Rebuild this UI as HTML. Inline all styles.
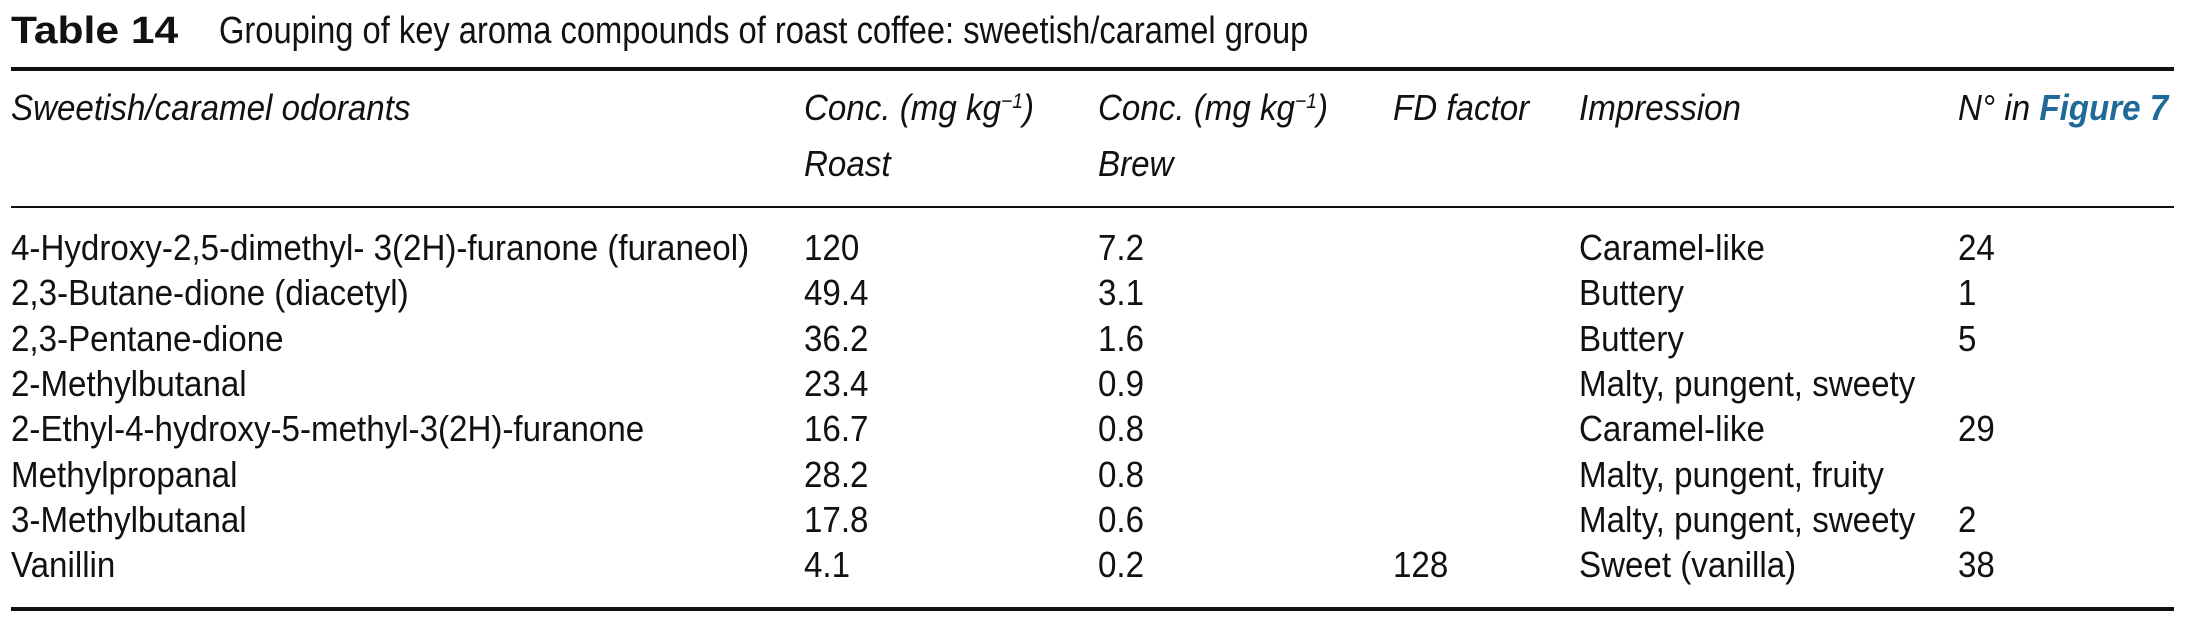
<!DOCTYPE html>
<html><head><meta charset="utf-8"><style>
html,body{margin:0;padding:0;background:#fff;}
body{width:2185px;height:618px;position:relative;overflow:hidden;font-family:"Liberation Sans",sans-serif;color:#111;font-size:36px;}
.t{position:absolute;white-space:nowrap;line-height:40px;height:40px;transform:scaleX(0.92);transform-origin:0 50%;}
.i{font-style:italic;}
.rule{position:absolute;left:11px;width:2163px;background:#111;}
sup{font-size:21px;vertical-align:top;position:relative;top:-6px;}
.blue{color:#1f6a98;font-weight:bold;}
</style></head><body>
<div class="t" style="left:11px;top:11px;font-size:38px;font-weight:bold;transform:scaleX(1.12);">Table 14</div>
<div class="t" style="left:219px;top:11px;font-size:38px;transform:scaleX(0.86);">Grouping of key aroma compounds of roast coffee: sweetish/caramel group</div>
<div class="rule" style="top:67px;height:4px;"></div>

<div class="t i" style="left:11px;top:88px;">Sweetish/caramel odorants</div>
<div class="t i" style="left:804px;top:88px;">Conc. (mg kg<sup>−1</sup>)</div>
<div class="t i" style="left:804px;top:144px;">Roast</div>
<div class="t i" style="left:1098px;top:88px;">Conc. (mg kg<sup>−1</sup>)</div>
<div class="t i" style="left:1098px;top:144px;">Brew</div>
<div class="t i" style="left:1393px;top:88px;">FD factor</div>
<div class="t i" style="left:1579px;top:88px;">Impression</div>
<div class="t i" style="left:1958px;top:88px;">N° in <span class="blue">Figure 7</span></div>
<div class="rule" style="top:206px;height:2px;"></div>

<div id="rows"></div>
<div class="rule" style="top:607px;height:4px;"></div>
<script>
const names=["4-Hydroxy-2,5-dimethyl- 3(2H)-furanone (furaneol)","2,3-Butane-dione (diacetyl)","2,3-Pentane-dione","2-Methylbutanal","2-Ethyl-4-hydroxy-5-methyl-3(2H)-furanone","Methylpropanal","3-Methylbutanal","Vanillin"];
const roast=["120","49.4","36.2","23.4","16.7","28.2","17.8","4.1"];
const brew=["7.2","3.1","1.6","0.9","0.8","0.8","0.6","0.2"];
const fd=["","","","","","","","128"];
const impression=["Caramel-like","Buttery","Buttery","Malty, pungent, sweety","Caramel-like","Malty, pungent, fruity","Malty, pungent, sweety","Sweet (vanilla)"];
const figNo=["24","1","5","","29","","2","38"];
const cols=[[names,11,'odorant'],[roast,804,'roast-conc'],[brew,1098,'brew-conc'],[fd,1393,'fd-factor'],[impression,1579,'impression'],[figNo,1958,'figure-number']];
const host=document.getElementById('rows');
for(let r=0;r<names.length;r++){
  const top=228+r*45.3;
  cols.forEach(([arr,x,nm])=>{
    const d=document.createElement('div');
    d.className='t';
    d.style.left=x+'px';d.style.top=top+'px';
    d.textContent=arr[r];
    
    
    host.appendChild(d);
  });
}
</script>
</body></html>
